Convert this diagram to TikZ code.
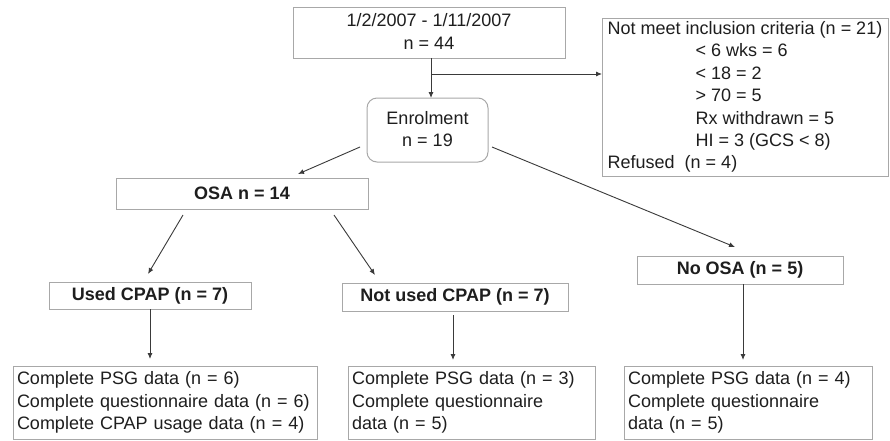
\documentclass[tikz,border=0pt]{standalone}
\usepackage{fontspec}
\setmainfont{Liberation Sans}
\usetikzlibrary{arrows.meta}
\definecolor{boxgray}{HTML}{A8A8A8}
\definecolor{linegray}{HTML}{3A3A3A}
\definecolor{txt}{HTML}{1E1E1E}
\begin{document}
\begin{tikzpicture}[x=1pt,y=-1pt,
  every node/.style={text=txt,font=\fontsize{18}{22.4}\selectfont},
  box/.style={draw=boxgray,line width=1pt,inner sep=0pt,outer sep=0pt,align=center},
  lbox/.style={box,align=left},
  bfont/.style={font=\fontsize{18}{22.4}\selectfont\bfseries},
  arr/.style={draw=linegray,line width=0.9pt,-{Latex[length=6pt,width=5pt]}}]
\useasboundingbox (0,0) rectangle (890,440);
\fill[white] (0,0) rectangle (890,440);

\node[box,minimum width=272pt,minimum height=51pt,text depth=2pt] (top) at (429,32.5) {1/2/2007 - 1/11/2007\\n = 44};
\node[box,rounded corners=10pt,minimum width=121pt,minimum height=64pt,text depth=2pt] (enrol) at (427.5,130) {Enrolment\\n = 19};
\node[lbox,minimum width=286pt,minimum height=158pt] (excl) at (745,97)
 {Not meet inclusion criteria (n = 21)\\
  \hspace*{88pt}< 6 wks = 6\\
  \hspace*{88pt}< 18 = 2\\
  \hspace*{88pt}> 70 = 5\\
  \hspace*{88pt}Rx withdrawn = 5\\
  \hspace*{88pt}HI = 3 (GCS < 8)\\
  Refused\ \ (n = 4)};
\node[box,bfont,minimum width=252pt,minimum height=31pt] (osa) at (242,193.5) {OSA n = 14};
\node[box,bfont,minimum width=206pt,minimum height=28pt] (noosa) at (740,270) {No OSA (n = 5)};
\node[box,bfont,minimum width=202pt,minimum height=27pt] (used) at (150,295.5) {Used CPAP (n = 7)};
\node[box,bfont,minimum width=226pt,minimum height=28pt] (notused) at (455,297) {Not used CPAP (n = 7)};
\node[lbox,minimum width=304pt,minimum height=73pt,text width=296pt] (bl) at (165,402.5)
 {Complete PSG data (n = 6)\\Complete questionnaire data (n = 6)\\Complete CPAP usage data (n = 4)};
\node[lbox,minimum width=247pt,minimum height=73pt,text width=239pt] (bm) at (471.5,402.5)
 {Complete PSG data (n = 3)\\Complete questionnaire\\data (n = 5)};
\node[lbox,minimum width=248pt,minimum height=73pt,text width=240pt] (br) at (748,402.5)
 {Complete PSG data (n = 4)\\Complete questionnaire\\data (n = 5)};

\coordinate (split) at (431,74);
\draw[arr] (top.south -| split) -- (enrol.north -| split);
\draw[arr] (split) -- (split -| excl.west);
\draw[arr] ([xshift=-7pt,yshift=-17pt]enrol.west) -- ([xshift=56pt,yshift=4pt]osa.north);
\draw[arr] ([xshift=4pt,yshift=-17pt]enrol.east) -- ([xshift=-5pt,yshift=9pt]noosa.north);
\draw[arr] ([xshift=-59pt,yshift=-6pt]osa.south) -- ([xshift=-2pt,yshift=8pt]used.north);
\draw[arr] ([xshift=92pt,yshift=-6pt]osa.south) -- ([xshift=-80pt,yshift=8pt]notused.north);
\draw[arr,shorten >=7pt] (used.south) -- (used.south |- bl.north);
\draw[arr,shorten <=4pt,shorten >=6pt] ([xshift=-2pt]notused.south) -- ([xshift=-2pt]notused.south |- bm.north);
\draw[arr,shorten >=6pt] ([xshift=3pt]noosa.south) -- ([xshift=3pt]noosa.south |- br.north);
\end{tikzpicture}
\end{document}
